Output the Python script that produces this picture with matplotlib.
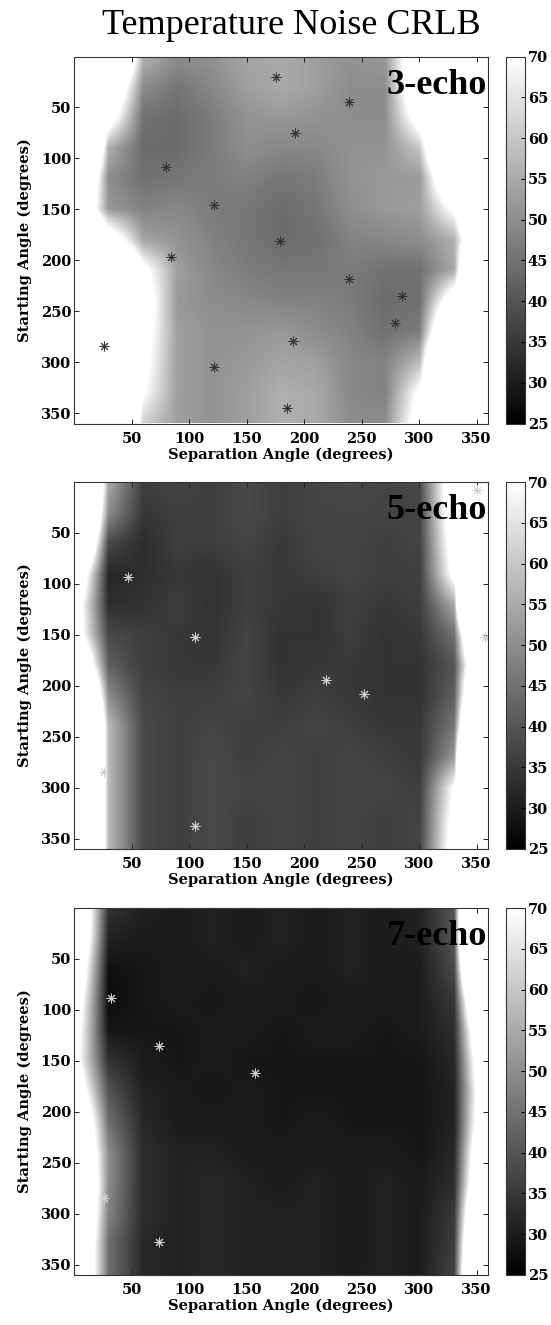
import matplotlib
matplotlib.use('Agg')
import matplotlib.pyplot as plt
import matplotlib.colors as mcolors
import matplotlib.cm as cm
import numpy as np

sep_nodes = [0, 30, 60, 90, 120, 150, 180, 210, 240, 270, 300, 330, 360]
start_nodes = [0, 30, 60, 90, 120, 150, 180, 210, 240, 270, 300, 330, 360]

# rows: starting angle, columns: separation angle; values > 70 show as white
crlb_3echo = [
    [122, 122, 57, 50, 51, 54, 55, 53, 51, 52, 86, 120, 120],
    [120, 93, 50, 46, 49, 53, 55, 53, 50, 50, 88, 120, 120],
    [120, 78, 45, 44, 47, 51, 52, 51, 50, 50, 77, 120, 120],
    [161, 56, 44, 44, 47, 50, 49, 49, 51, 51, 60, 120, 120],
    [117, 50, 45, 46, 47, 48, 46, 47, 51, 52, 52, 93, 120],
    [101, 52, 48, 49, 47, 46, 44, 46, 50, 52, 53, 72, 120],
    [120, 82, 54, 51, 48, 46, 44, 45, 48, 49, 50, 56, 116],
    [120, 120, 74, 53, 49, 47, 46, 46, 47, 45, 45, 55, 167],
    [120, 120, 79, 52, 50, 49, 48, 48, 47, 44, 45, 81, 120],
    [120, 120, 77, 53, 51, 51, 52, 50, 48, 45, 47, 110, 120],
    [120, 120, 74, 53, 51, 52, 54, 53, 49, 48, 58, 148, 120],
    [120, 120, 71, 53, 51, 53, 56, 55, 49, 48, 72, 120, 120],
    [120, 142, 62, 53, 51, 53, 56, 55, 50, 50, 77, 120, 120],
]

crlb_5echo = [
    [167, 55, 36, 37, 36, 38, 36, 37, 38, 37, 38, 84, 120],
    [150, 50, 35, 36, 36, 38, 36, 37, 37, 37, 37, 82, 120],
    [130, 38, 33, 36, 36, 37, 35, 37, 37, 36, 37, 78, 120],
    [95, 32, 33, 35, 34, 36, 35, 36, 37, 36, 36, 74, 120],
    [82, 33, 34, 36, 34, 36, 35, 34, 36, 35, 36, 55, 280],
    [82, 38, 36, 35, 34, 37, 34, 34, 36, 34, 35, 45, 152],
    [107, 42, 36, 35, 35, 37, 34, 35, 35, 34, 34, 40, 122],
    [150, 50, 37, 36, 36, 37, 35, 36, 35, 34, 34, 42, 147],
    [178, 58, 38, 36, 37, 36, 36, 37, 36, 35, 35, 46, 190],
    [178, 58, 38, 36, 38, 36, 37, 36, 37, 36, 35, 52, 322],
    [178, 58, 38, 36, 38, 37, 37, 36, 37, 37, 36, 71, 120],
    [178, 58, 38, 36, 38, 36, 37, 36, 37, 36, 37, 75, 120],
    [178, 58, 38, 36, 38, 36, 37, 36, 37, 36, 37, 78, 120],
]

crlb_7echo = [
    [106, 34, 31, 30, 31, 30, 31, 30, 31, 30, 31, 40, 265],
    [104, 31, 30, 30, 31, 30, 31, 30, 31, 30, 31, 40, 265],
    [94, 28, 29, 30, 30, 31, 30, 30, 31, 30, 30, 38, 198],
    [86, 27, 29, 30, 29, 30, 30, 29, 30, 30, 30, 35, 140],
    [80, 29, 29, 29, 30, 30, 29, 30, 30, 29, 30, 33, 112],
    [77, 34, 30, 29, 30, 29, 29, 29, 29, 29, 29, 32, 99],
    [87, 40, 31, 30, 29, 30, 29, 29, 29, 29, 29, 31, 93],
    [103, 45, 32, 30, 30, 30, 29, 30, 29, 29, 29, 31, 96],
    [110, 50, 33, 31, 31, 30, 30, 30, 30, 30, 29, 32, 108],
    [117, 50, 33, 31, 32, 31, 30, 31, 30, 31, 30, 33, 118],
    [114, 48, 33, 31, 32, 31, 31, 31, 30, 31, 30, 35, 140],
    [108, 45, 32, 31, 32, 31, 31, 31, 30, 31, 30, 36, 163],
    [108, 45, 32, 31, 32, 31, 31, 31, 30, 31, 30, 37, 178],
]

# marked points (separation angle, starting angle)
stars_3echo_sep = [176, 239, 192, 80, 122, 179, 84, 239, 285, 279, 190, 26, 122, 185]
stars_3echo_start = [20, 45, 75, 108, 146, 181, 197, 218, 235, 261, 279, 284, 305, 345]
stars_5echo_sep = [47, 105, 219, 252, 26, 105, 350, 357]
stars_5echo_start = [93, 152, 194, 208, 284, 337, 8, 152]
stars_7echo_sep = [32, 74, 157, 26, 74]
stars_7echo_start = [88, 135, 162, 284, 328]

panel_names = ['3-echo', '5-echo', '7-echo']
cbar_ticks = [25, 30, 35, 40, 45, 50, 55, 60, 65, 70]
axis_ticks = [50, 100, 150, 200, 250, 300, 350]

W, H = 551, 1325
fig = plt.figure(figsize=(W / 100, H / 100), dpi=100)


def px_axes(left, top, width, height):
    return fig.add_axes([left / W, 1 - (top + height) / H, width / W, height / H])


label_font = dict(family='DejaVu Serif', weight='bold', size=10.5)

# gray ramp over 25..70, white above; the image norm spans every value so
# nothing is clipped before interpolation
vmin, vmax, vtop = 25, 70, 330
frac = (vmax - vmin) / (vtop - vmin)
img_cmap = mcolors.LinearSegmentedColormap.from_list(
    'gray_white', [(0, 'black'), (frac, 'white'), (1, 'white')], N=4096)
img_norm = mcolors.Normalize(vmin=vmin, vmax=vtop)
bar_norm = mcolors.Normalize(vmin=vmin, vmax=vmax)

panels = [
    (crlb_3echo, stars_3echo_sep, stars_3echo_start, '#353535', 56.5),
    (crlb_5echo, stars_5echo_sep, stars_5echo_start, '#d0d0d0', 482),
    (crlb_7echo, stars_7echo_sep, stars_7echo_start, '#d0d0d0', 908),
]

step = sep_nodes[1] - sep_nodes[0]
for name, (grid, sx, sy, star_col, top) in zip(panel_names, panels):
    ax = px_axes(74, top, 414, 367)
    ax.imshow(np.array(grid, dtype=float), cmap=img_cmap, norm=img_norm,
              interpolation='bilinear', interpolation_stage='data',
              aspect='auto', origin='upper',
              extent=[sep_nodes[0] - step / 2, sep_nodes[-1] + step / 2,
                      start_nodes[-1] + step / 2, start_nodes[0] - step / 2])
    ax.plot(sx, sy, linestyle='none', marker=(8, 2, 0), markersize=7,
            markeredgewidth=0.7, color=star_col)
    ax.set_xlim(0, 360)
    ax.set_ylim(360, 0)
    ax.set_xticks(axis_ticks)
    ax.set_yticks(axis_ticks)
    ax.tick_params(direction='in', top=True, right=True, length=3.5, width=0.7,
                   colors='#222222', labelcolor='black')
    ax.tick_params(axis='x', pad=6)
    ax.tick_params(axis='y', pad=2)
    for lab in ax.get_xticklabels() + ax.get_yticklabels():
        lab.set_fontproperties(label_font)
    for sp in ax.spines.values():
        sp.set_color('#333333')
        sp.set_linewidth(0.8)
    ax.set_xlabel('Separation Angle (degrees)', fontdict=label_font, labelpad=1)
    ax.set_ylabel('Starting Angle (degrees)', fontdict=label_font, labelpad=6)
    ax.text(0.997, 1 - 37 / 367, name, transform=ax.transAxes, ha='right',
            va='baseline', family='Liberation Serif', weight='bold', size=26)

    cax = px_axes(506, top, 19, 367)
    cb = fig.colorbar(cm.ScalarMappable(norm=bar_norm, cmap='gray'), cax=cax,
                      ticks=cbar_ticks)
    cb.outline.set_edgecolor('#333333')
    cb.outline.set_linewidth(0.8)
    cax.tick_params(direction='in', length=3, width=0.7, pad=2)
    for lab in cax.get_yticklabels():
        lab.set_fontproperties(label_font)

fig.text(291 / W, 1 - 34 / H, 'Temperature Noise CRLB', ha='center',
         va='baseline', family='Liberation Serif', size=26)

fig.savefig('out.png', dpi=100)
